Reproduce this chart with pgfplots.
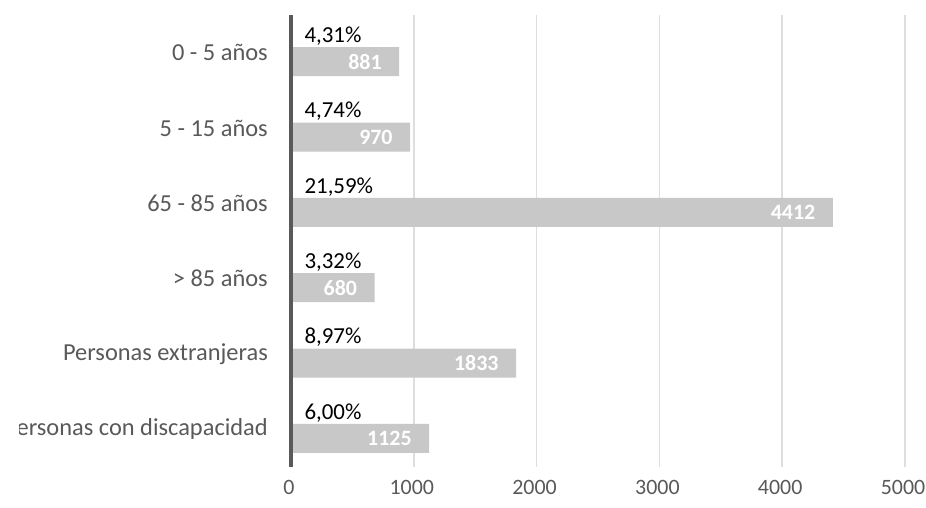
\documentclass[border=0pt]{standalone}
\usepackage{pgfplots}
\pgfplotsset{compat=1.18}
\usepackage{fontspec}
\setmainfont{Carlito}
\definecolor{bargray}{HTML}{C8C8C8}
\definecolor{gridgray}{HTML}{DEDEDE}
\definecolor{axisgray}{HTML}{595959}
\definecolor{txtgray}{HTML}{595959}
\begin{document}
\begin{tikzpicture}
\useasboundingbox (-291bp,-41bp) rectangle (635bp,467bp);
\clip (-271.5bp,-41bp) rectangle (635bp,467bp);
\begin{axis}[
  at={(0,0)}, anchor=south west,
  scale only axis, width=614bp, height=452bp,
  xmin=0, xmax=5000, ymin=-0.5, ymax=5.5, y dir=reverse,
  enlargelimits=false, clip=false,
  xtick={0,1000,2000,3000,4000,5000}, ytick={0,1,2,3,4,5},
  yticklabels={0 - 5 años, 5 - 15 años, 65 - 85 años, > 85 años, Personas extranjeras, Personas con discapacidad},
  xmajorgrids, grid style={gridgray, line width=1.5bp},
  axis line style={draw=none},
  major tick length=0pt,
  tick style={draw=none},
  scaled x ticks=false,
  /pgf/number format/1000 sep={},
  /pgf/number format/assume math mode=true,
  xticklabel style={font=\fontsize{22}{26}\selectfont, text=txtgray, yshift=-10bp, xshift=-2bp},
  yticklabel style={font=\fontsize{24.5}{29}\selectfont, text=txtgray, inner sep=0pt, xshift=-23bp},
]
\addplot[xbar, bar width=29bp, fill=bargray, draw=none, bar shift=0pt,
  nodes near coords,
  nodes near coords style={anchor=east, text=white, font=\fontsize{22}{26}\selectfont\bfseries, xshift=-14bp}]
  coordinates {(881,0.12) (970,1.12) (4412,2.12) (680,3.12) (1833,4.12) (1125,5.12)};
\addplot[draw=none, nodes near coords, point meta=explicit symbolic,
  nodes near coords style={anchor=west, text=black, font=\fontsize{23}{27}\selectfont, xshift=10bp}]
  coordinates {(0,-0.22) [4,31\%] (0,0.78) [4,74\%] (0,1.78) [21,59\%] (0,2.78) [3,32\%] (0,3.78) [8,97\%] (0,4.78) [6,00\%]};
\draw[axisgray, line width=3.5bp] (rel axis cs:0,0) -- (rel axis cs:0,1);
\end{axis}
\end{tikzpicture}
\end{document}
